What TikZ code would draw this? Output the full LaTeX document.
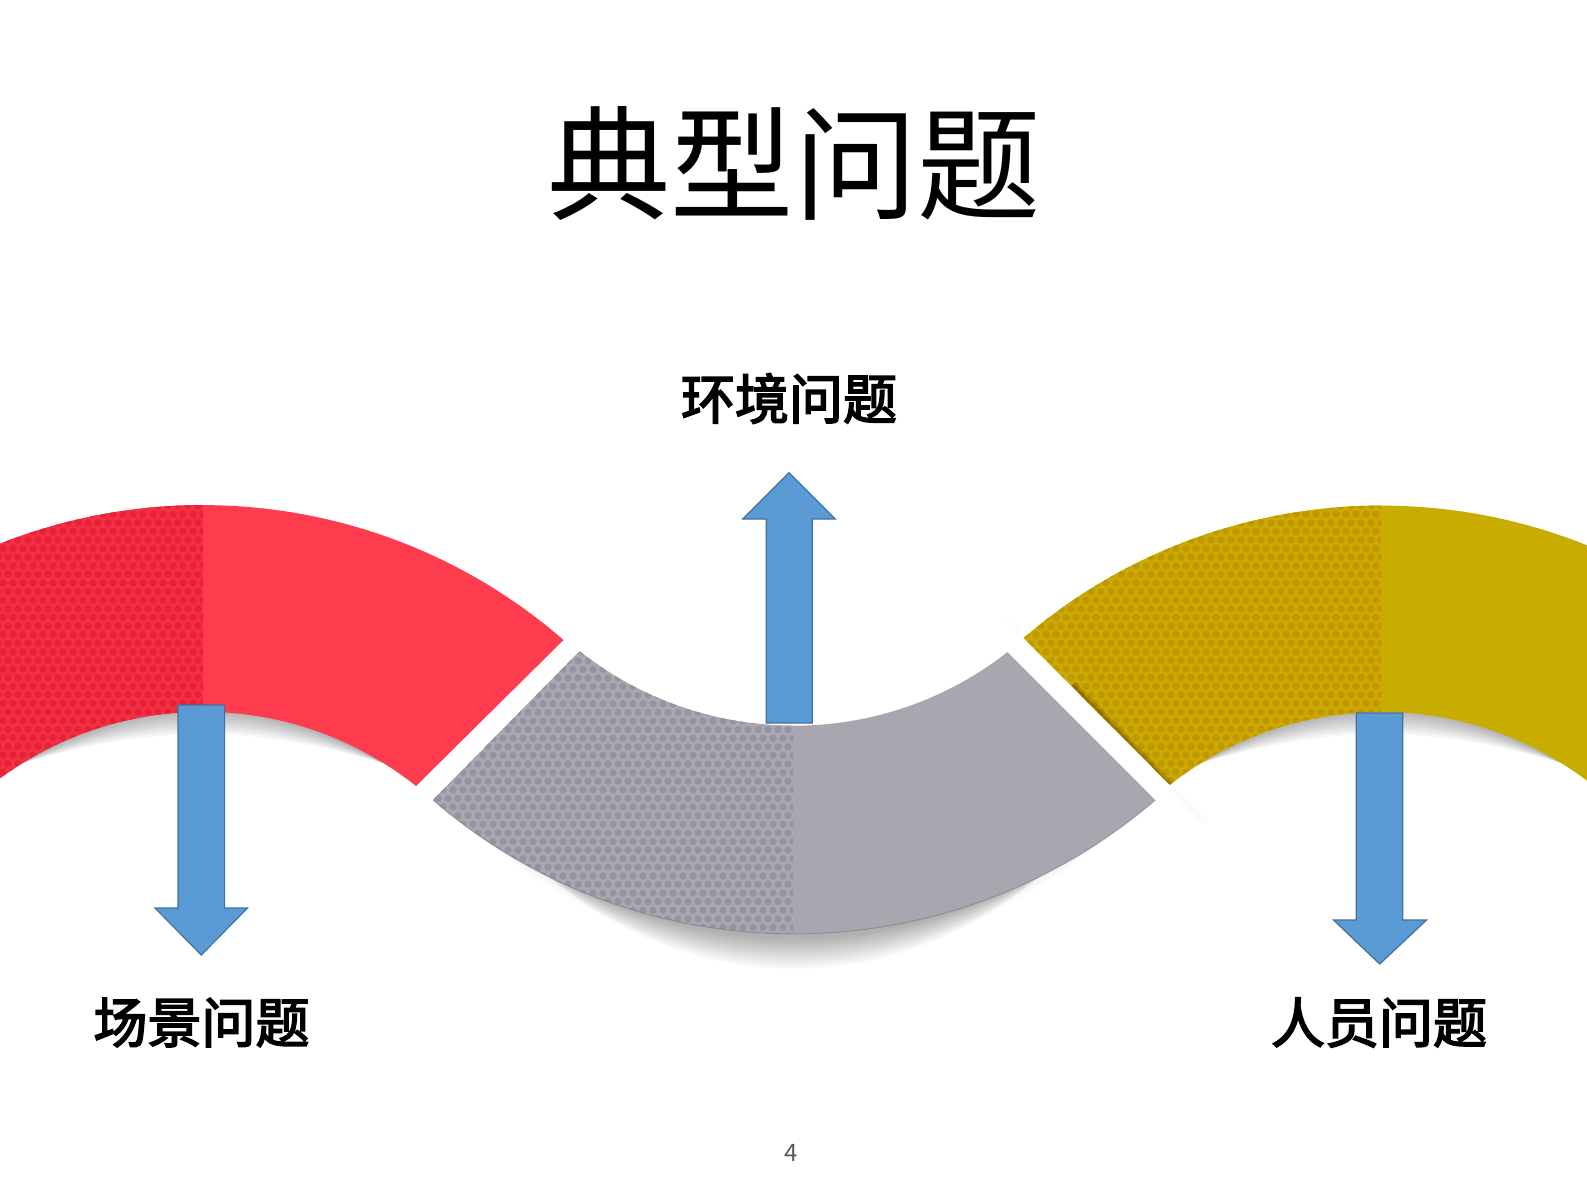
\documentclass[tikz,border=0pt]{standalone}
\usepackage{fontspec}
\newfontfamily\cjk{Noto Sans CJK SC}
\newfontfamily\cjkheavy[FakeBold=3]{Noto Sans CJK SC}
\definecolor{redflat}{RGB}{255,60,78}
\definecolor{redbase}{RGB}{246,48,68}
\definecolor{reddot}{RGB}{230,34,54}
\definecolor{greyflat}{RGB}{168,167,176}
\definecolor{greybase}{RGB}{170,169,178}
\definecolor{greydot}{RGB}{148,147,160}
\definecolor{goldflat}{RGB}{200,172,0}
\definecolor{goldbase}{RGB}{206,170,0}
\definecolor{golddot}{RGB}{190,152,0}
\definecolor{arrowfill}{RGB}{91,155,213}
\definecolor{arrowline}{RGB}{65,113,156}
\tikzset{
  blockarrow/.style={draw=arrowline,fill=arrowfill,line width=0.9pt},
  softshade/.style={black,opacity=0.035},
  toptext/.style={font=\cjk\fontsize{92.5}{93}\selectfont,inner sep=0.75pt},
  labeltext/.style={font=\cjkheavy\fontsize{40.5}{41}\selectfont,inner sep=0.75pt}
}
% honeycomb dots, args: left x, top y, column count, dot colour
\newcommand{\hexdots}[4]{%
  \path [fill=#4,draw=#4,draw opacity=0.4,line width=0.9pt] \foreach \row in {0,...,35} { \foreach \col in {0,...,#3} {
    ({#1+10*\col+5*mod(\row,2)},{#2+8.6*\row}) circle [radius=3.4] } };
}
\begin{document}
\begin{tikzpicture}[x=0.75pt,y=0.75pt,yscale=-1,xscale=1]
\useasboundingbox (0,0) rectangle (1587,1190);
\def\redband{(563.5,640) arc [start angle=-49,end angle=-130,radius=550] -- (-17.5,792) arc [start angle=-130,end angle=-51.6,radius=343] -- cycle}
\def\greyband{(433,800) arc [start angle=130.7,end angle=49.3,radius=553.8] -- (1007.5,652) arc [start angle=51.9,end angle=128.3,radius=346] -- cycle}
\def\goldband{(1023.7,638) arc [start angle=-130.6,end angle=-50,radius=550] -- (1601.5,792.2) arc [start angle=-50,end angle=-128,radius=343] -- cycle}

%Shadows under the bands
\foreach \a in {16,17.5,...,31} {
  \fill [softshade] (23,763) to [bend right=\a] (383,763) -- (383,650) -- (23,650) -- cycle;
  \fill [softshade] (1201,763) to [bend right=\a] (1561,763) -- (1561,650) -- (1201,650) -- cycle;
}
\foreach \a in {36,37.5,...,42} {
  \fill [black,opacity=0.012] (474,831) to [bend left=\a] (1114,831) -- cycle;
}
\foreach \a in {27,28,...,41} {
  \fill [black,opacity=0.02] (544,873) to [bend left=\a] (1044,873) -- cycle;
}
%faint haze in the gap
\draw [black,opacity=0.015,line width=5pt] (1172,788) -- (1206,823);
\draw [black,opacity=0.01,line width=5pt] (1006,620) -- (1020,634);

%Red band
\fill [redflat] \redband;
\begin{scope}
\clip \redband;
\clip (-10,490) rectangle (203,800);
\fill [redbase] (-10,490) rectangle (203,800);
\hexdots{-7}{497}{21}{reddot}
\end{scope}

%Grey band
\fill [greyflat] \greyband;
\begin{scope}
\clip \greyband;
\clip (420,640) rectangle (793,940);
\fill [greybase] (420,640) rectangle (793,940);
\hexdots{423}{635}{37}{greydot}
\end{scope}
\draw [greydot!80!black,opacity=0.5,line width=0.8pt] (433,800) arc [start angle=130.7,end angle=49.3,radius=553.8];

%Gold band
\fill [goldflat] \goldband;
\begin{scope}
\clip \goldband;
\clip (1015,495) rectangle (1381,795);
\fill [goldbase] (1015,495) rectangle (1381,795);
\hexdots{1016}{497}{36}{golddot}
\draw [black!70!golddot,opacity=0.18,line width=7pt] (1072,685) -- (1172,788);
\draw [black!70!golddot,opacity=0.25,line width=3pt] (1072,685) -- (1172,788);
\end{scope}

%Down Arrow left
\draw [blockarrow] (178,705) -- (224.6,705) -- (224.6,908) -- (247.5,908) -- (201.3,955) -- (155,908) -- (178,908) -- cycle;
%Up Arrow middle
\draw [blockarrow] (766.3,723) -- (766.3,519) -- (742.8,519) -- (789,472.7) -- (835.2,519) -- (812.3,519) -- (812.3,723) -- cycle;
%Down Arrow right
\draw [blockarrow] (1356.3,713) -- (1402.8,713) -- (1402.8,920) -- (1426.5,920) -- (1379.7,964) -- (1333.5,920) -- (1356.3,920) -- cycle;

% Text Node
\draw (794,163.5) node (title) [toptext] {典型问题};
% Text Node
\draw (789,398.5) node (envlabel) [labeltext] {环境问题};
% Text Node
\draw (201.5,1022.5) node (scenelabel) [labeltext] {场景问题};
% Text Node
\draw (1379,1022.5) node (stafflabel) [labeltext] {人员问题};
% Text Node
\draw (791.5,1153) node (pagenum) [inner sep=0.75pt,text={rgb,255:red,89;green,89;blue,89},font=\cjk\fontsize{18}{18}\selectfont] {4};

\end{tikzpicture}
\end{document}
